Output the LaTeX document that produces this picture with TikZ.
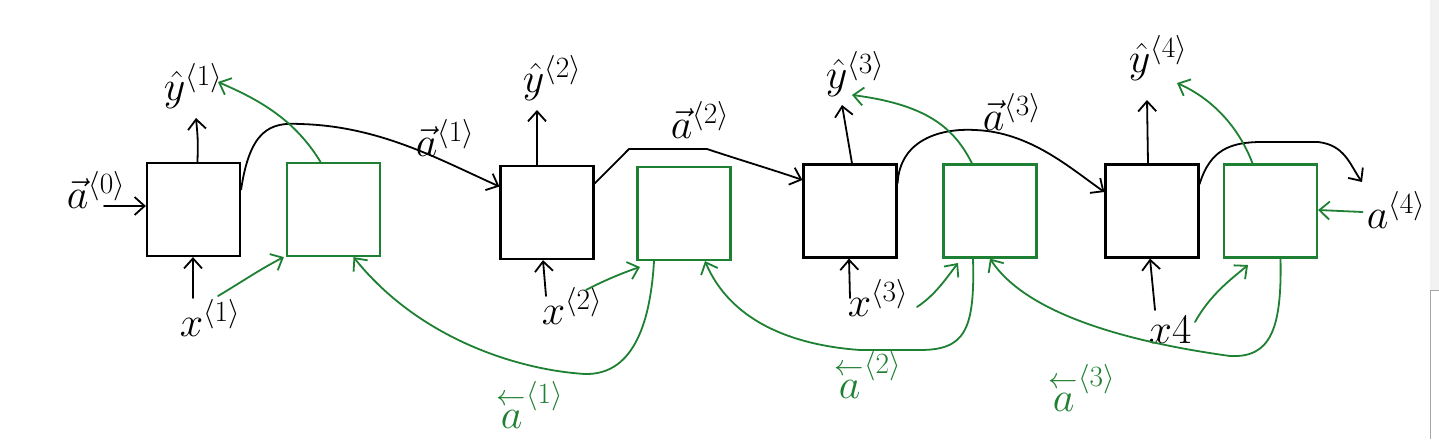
\documentclass[tikz,border=0pt]{standalone}
\usepackage{fix-cm}
\usepackage{amsmath}
\usetikzlibrary{arrows.meta,calc}
\definecolor{gr}{RGB}{30,128,50}
\tikzset{
  hand/.style={line width=1.8pt, line cap=round, line join=round},
  arr/.style={hand, -{Straight Barb[length=10pt,width=18pt,line width=1.8pt]}},
  cell/.style={draw, line width=2.2pt, minimum width=93pt, minimum height=93pt, inner sep=0pt},
  gcell/.style={cell, draw=gr},
  lbl/.style={font=\fontsize{42}{44}\selectfont, inner sep=0pt},
  glbl/.style={lbl, text=gr},
}
\begin{document}
\begin{tikzpicture}[x=1pt,y=-1pt]
\useasboundingbox (0,0) rectangle (1439,439);
\fill[white] (0,0) rectangle (1439,439);
% right window edge
\fill[gray!10] (1430,0) rectangle (1439,290);
\draw[gray!70,line width=0.8pt] (1439,290) -- (1430.5,290) -- (1430.5,439);

% cells
\node[cell]  (B1) at (193.5,209.5) {};
\node[gcell] (G1) at (333.5,209.5) {};
\node[cell]  (B2) at (547,212.5) {};
\node[gcell] (G2) at (684,213.5) {};
\node[cell]  (B3) at (850,211) {};
\node[gcell] (G3) at (990,211) {};
\node[cell]  (B4) at (1152,211) {};
\node[gcell] (G4) at (1270.5,211) {};

% labels
\node[lbl] (a0) at (96,190) {${\vec{a}}^{\langle 0\rangle}$};
\node[lbl] (yh1) at (193,86) {$\hat{y}^{\langle 1\rangle}$};
\node[lbl] (yh2) at (552,78) {$\hat{y}^{\langle 2\rangle}$};
\node[lbl] (yh3) at (855,74) {$\hat{y}^{\langle 3\rangle}$};
\node[lbl] (yh4) at (1158,58) {$\hat{y}^{\langle 4\rangle}$};
\node[lbl] (x1) at (210,318) {$x^{\langle 1\rangle}$};
\node[lbl] (x2) at (572,306) {$x^{\langle 2\rangle}$};
\node[lbl] (x3) at (878,298) {$x^{\langle 3\rangle}$};
\node[lbl] (x4) at (1170,330) {$x4$};
\node[lbl] (a1) at (445,138) {${\vec{a}}^{\langle 1\rangle}$};
\node[lbl] (a2) at (700,120) {${\vec{a}}^{\langle 2\rangle}$};
\node[lbl] (a3) at (1012,112) {${\vec{a}}^{\langle 3\rangle}$};
\node[lbl] (a4) at (1396,210) {$a^{\langle 4\rangle}$};
\node[glbl] (ba1) at (530,405) {${\overset{\leftarrow}{a}}^{\langle 1\rangle}$};
\node[glbl] (ba2) at (868,375) {${\overset{\leftarrow}{a}}^{\langle 2\rangle}$};
\node[glbl] (ba3) at (1082,388) {${\overset{\leftarrow}{a}}^{\langle 3\rangle}$};

\coordinate (a0s) at (104,206);
\coordinate (a4end) at (1362,182);

% black: inputs and outputs
\draw[arr] (a0s) -- (B1.west |- a0s);
\draw[arr] (193,298) -- (B1.south -| 193,0);
\draw[arr] ([xshift=4pt]B1.north) .. controls (198,140) .. (196,118);
\draw[arr] (546,296) -- (B2.south -| 543,0);
\draw[arr] ([xshift=-10pt]B2.north) -- (537,110);
\draw[arr] (850,298) -- (B3.south -| 849,0);
\draw[arr] ([xshift=2pt]B3.north) -- (842,105);
\draw[arr] (1155,310) -- (B4.south -| 1150,0);
\draw[arr] ([xshift=-4pt]B4.north) -- (1147,100);

% black recurrences
\draw[arr] ([yshift=20pt]B1.east) .. controls (250,130) and (270,122) .. (300,124)
  .. controls (380,126) and (440,160) .. ([yshift=26pt]B2.west);
\draw[arr] ([yshift=29pt]B2.east) -- (629,149) -- (707,149)
  .. controls (740,160) and (780,172) .. ([yshift=31pt]B3.west);
\draw[arr] ([yshift=28pt]B3.east) .. controls (900,140) and (940,128) .. (975,130)
  .. controls (1030,132) and (1070,168) .. ([yshift=19pt]B4.west);
\draw[arr] ([yshift=27pt]B4.east) .. controls (1210,150) and (1230,142) .. (1262,142)
  -- (1318,142) .. controls (1345,145) and (1350,165) .. (a4end);

% green: inputs
\draw[arr,gr] (218,296) .. controls (240,283) and (262,268) .. ([xshift=-2pt]G1.south west);
\draw[arr,gr] (586,290) .. controls (605,280) and (625,272) .. (640,267);
\draw[arr,gr] (917,307) .. controls (935,295) and (945,280) .. (958,263);
\draw[arr,gr] (1195,322) .. controls (1210,295) and (1230,280) .. (1248,265);
\draw[arr,gr] ([xshift=-4pt,yshift=-2pt]a4.west) -- (a4.west -| G4.east);

% green: outputs
\draw[arr,gr] ([xshift=-13pt]G1.north) .. controls (295,120) and (260,100) .. (218,82);
\draw[arr,gr] ([xshift=-18pt]G3.north) .. controls (955,130) and (930,105) .. (852,95);
\draw[arr,gr] ([xshift=-18pt]G4.north) .. controls (1240,130) and (1215,100) .. (1177,83);

% green: backward recurrences
\draw[arr,gr] ([xshift=-30pt]G2.south) .. controls (650,330) and (630,375) .. (585,374)
  .. controls (520,370) and (420,340) .. ([xshift=20pt]G1.south);
\draw[arr,gr] ([xshift=-17pt]G3.south) .. controls (975,330) and (965,350) .. (920,350)
  -- (860,350) .. controls (790,345) and (730,320) .. ([xshift=21pt]G2.south);
\draw[arr,gr] ([xshift=10pt]G4.south) .. controls (1282,330) and (1270,358) .. (1230,356)
  .. controls (1150,345) and (1030,320) .. (G3.south);
\end{tikzpicture}
\end{document}
